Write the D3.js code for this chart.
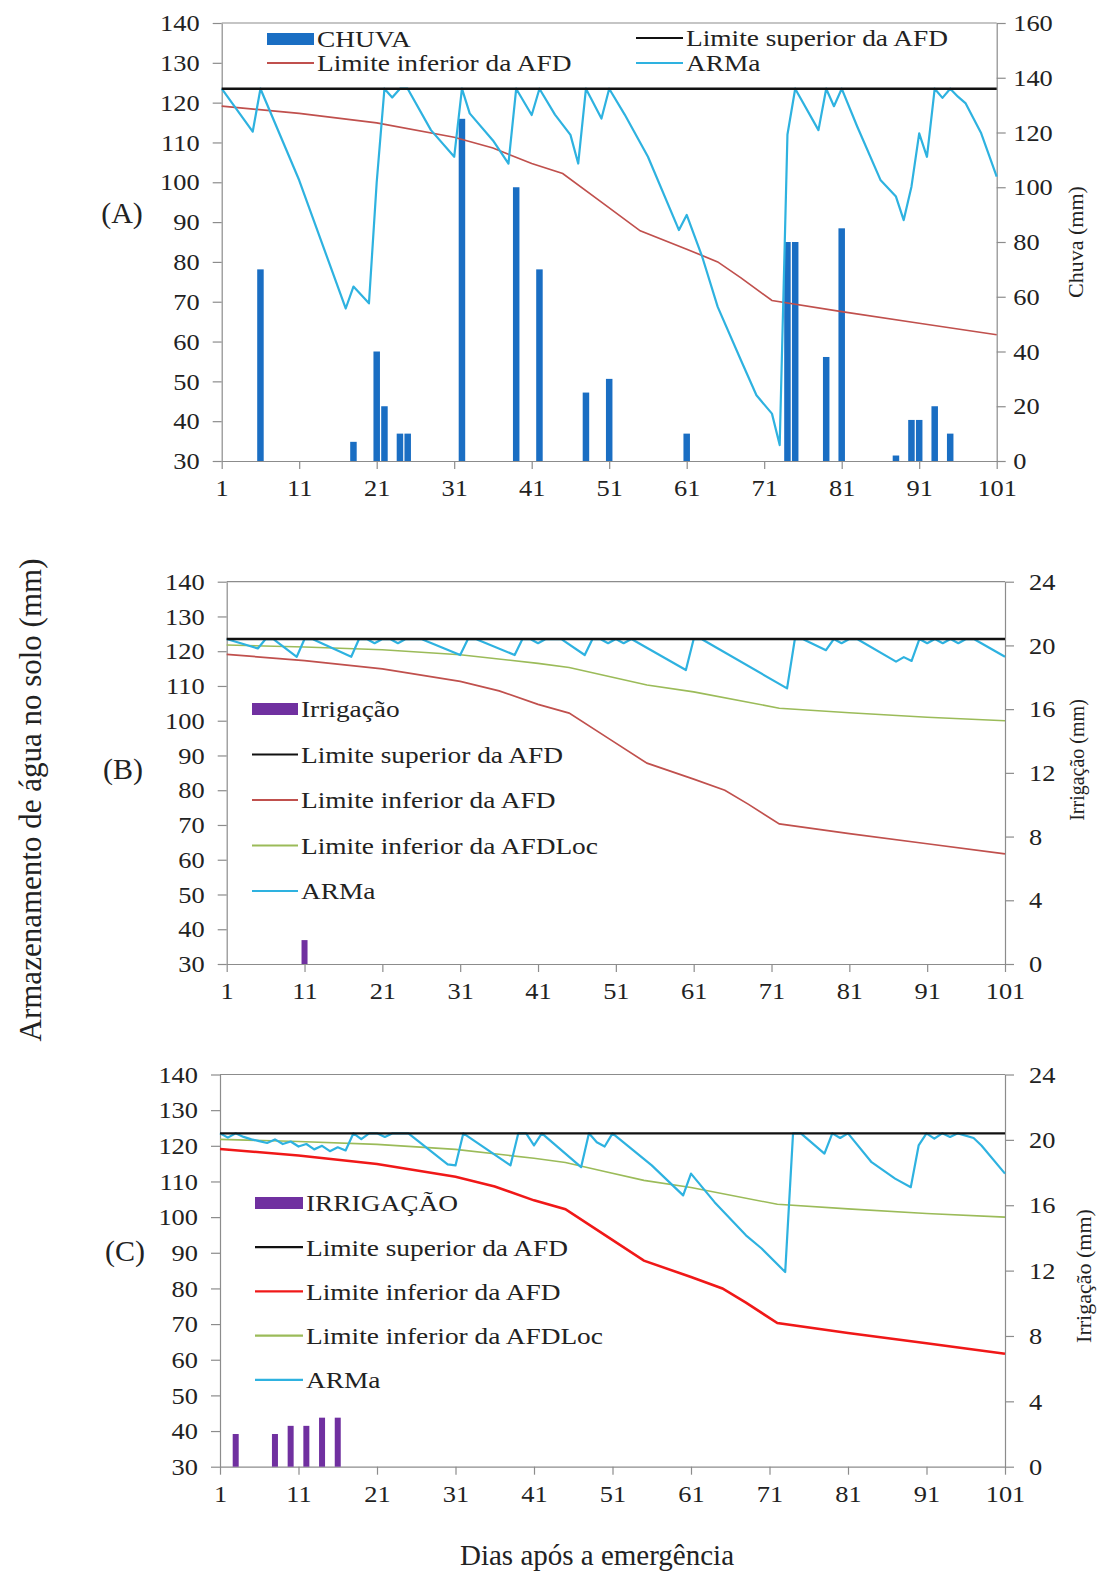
<!DOCTYPE html>
<html>
<head>
<meta charset="utf-8">
<script src="https://cdn.jsdelivr.net/npm/d3@7"></script>
<style>
  body { margin: 0; background: #fff; }
  svg text { font-family: 'Liberation Serif', 'Times New Roman', serif; fill: #222; }
</style>
</head>
<body>
<div id="chart"></div>
<script>
// ---- data ----
const xTicks = d3.range(1, 102, 10);
const armTicks = d3.range(30, 141, 10);
const chuvaTicks = d3.range(0, 161, 20);
const irrigTicks = d3.range(0, 25, 4);

const limSup = 123.5;

const afdInfDias = [1, 11, 21, 31, 36, 41, 45, 50, 55, 61, 65, 68, 72, 81, 91, 101];
const afdInfVals = [119.1, 117.3, 114.9, 111.3, 108.6, 104.7, 102.2, 95, 87.8, 83.2, 80, 76, 70.3, 67.5, 64.6, 61.7];

const afdLocDias = [1, 11, 21, 31, 41, 45, 50, 55, 61, 72, 81, 91, 101];
const afdLocVals = [121.8, 121.2, 120.4, 119, 116.5, 115.3, 112.8, 110.3, 108.3, 103.6, 102.3, 101, 100];

const chuvaDias = [6, 18, 21, 22, 24, 25, 32, 39, 42, 48, 51, 61, 74, 75, 79, 81, 88, 90, 91, 93, 95];
const chuvaMm = [70, 7, 40, 20, 10, 10, 125, 100, 70, 25, 30, 10, 80, 80, 38, 85, 2, 15, 15, 20, 10];

const irrigDiasB = [11];
const irrigMmB = [1.5];

const irrigDiasC = [3, 8, 10, 12, 14, 16];
const irrigMmC = [2, 2, 2.5, 2.5, 3, 3];

// ARMa vertices [dia, mm]
const armaA = [[1,123.5],[5,112.7],[6,123.5],[11,100.5],[17,68.3],[18,73.8],[20,69.6],[21,100],[22,123.5],
  [23,121.3],[24,123.5],[25,123.5],[28,113.1],[31,106.4],[32,123.5],[33,117.3],[36,110.5],[38,104.7],
  [39,123.5],[41,116.9],[42,123.5],[44,117],[46,111.9],[47,104.7],[48,123.5],[50,116],[51,123.5],
  [53,117],[56,106.4],[60,88],[61,91.8],[63,81.3],[65,68.7],[68,55.3],[70,46.5],[72,41.9],[73,34],
  [74,112],[75,123.5],[78,113.1],[79,123.5],[80,119.1],[81,123.5],[83,114],[86,100.6],[88,96.4],
  [89,90.5],[90,98.9],[91,112.3],[92,106.4],[93,123.5],[94,121.2],[95,123.5],[96,121.5],[97,119.8],
  [99,112.3],[101,101.4]];

const armaB = [[1,123.5],[5,120.8],[6,123.5],[7,123.5],[10,118.4],[11,123.5],[12,123.5],[17,118.4],
  [18,123.5],[19,123.5],[20,122.3],[21,123.5],[22,123.5],[23,122.3],[24,123.5],[26,123.5],[31,118.9],
  [32,123.5],[33,123.5],[38,118.9],[39,123.5],[40,123.5],[41,122.3],[42,123.5],[44,123.5],[47,118.9],
  [48,123.5],[49,123.5],[50,122.3],[51,123.5],[52,122.3],[53,123.5],[60,114.6],[61,123.5],[62,123.5],
  [73,109.3],[74,123.5],[75,123.5],[78,120.3],[79,123.5],[80,122.3],[81,123.5],[82,123.5],[87,117],
  [88,118.3],[89,117.2],[90,123.5],[91,122.3],[92,123.5],[93,122.3],[94,123.5],[95,122.3],[96,123.5],
  [97,123.5],[101,118.4]];

const armaC = [[1,123.5],[2,122.3],[3,123.5],[4,122.5],[5,121.8],[6,121.3],[7,120.8],[8,121.8],[9,120.5],
  [10,121.2],[11,119.8],[12,120.5],[13,119],[14,120],[15,118.5],[16,119.6],[17,118.7],[18,123.5],
  [19,121.9],[20,123.5],[21,123.5],[22,122.5],[23,123.5],[25,123.5],[30,114.8],[31,114.5],[32,123.5],
  [38,114.5],[39,123.5],[40,123.5],[41,120.1],[42,123.5],[47,114],[48,123.5],[49,121],[50,119.8],
  [51,123.5],[56,114.5],[60,106.1],[61,112.2],[64,104.2],[68,94.9],[70,91.2],[73,84.6],[74,123.5],
  [75,123.5],[78,117.8],[79,123.5],[80,122.2],[81,123.5],[84,115.4],[87,110.8],[89,108.4],[90,120.1],
  [91,123.5],[92,122],[93,123.5],[94,122.5],[95,123.5],[97,122.2],[98,120.1],[101,112.2]];

// ---- drawing ----
const width = 1103, height = 1573;
const SX = 1.1;            // the source charts are slightly stretched horizontally
const SXL = 1.14;          // legend text stretch
const axisColor = '#8c8c8c';
const cyan = '#2eb2e0';
const brownRed = '#c0504d';
const olive = '#9bbb59';
const purple = '#7030a0';

const svg = d3.select('#chart').append('svg')
  .attr('width', width)
  .attr('height', height);

function styleAxis(g) {
  g.select('.domain').attr('stroke', axisColor).attr('stroke-width', 1.2);
  g.selectAll('.tick line').attr('stroke', axisColor).attr('stroke-width', 1.2);
  g.selectAll('.tick text')
    .attr('font-size', 24)
    .attr('fill', '#222')
    .attr('transform', `scale(${SX},1)`);
}

function stretchedText(g, x, y, label, size) {
  return g.append('text')
    .attr('transform', `translate(${x},${y}) scale(${SXL},1)`)
    .attr('dy', '0.35em')
    .attr('font-size', size)
    .text(label);
}

function drawPanel(p) {
  const g = svg.append('g').attr('class', 'panel');
  const x = d3.scaleLinear().domain([1, 101]).range([p.left, p.right]);
  const y = d3.scaleLinear().domain([30, 140]).range([p.bottom, p.top]);
  const y2 = d3.scaleLinear().domain([0, p.rightMax]).range([p.bottom, p.top]);

  // top border
  g.append('line')
    .attr('x1', p.left).attr('x2', p.right)
    .attr('y1', p.top).attr('y2', p.top)
    .attr('stroke', axisColor).attr('stroke-width', 1.2);

  g.append('g')
    .attr('transform', `translate(0,${p.bottom})`)
    .call(d3.axisBottom(x).tickValues(xTicks).tickSize(8).tickSizeOuter(0).tickPadding(10))
    .call(styleAxis);

  g.append('g')
    .attr('transform', `translate(${p.left},0)`)
    .call(d3.axisLeft(y).tickValues(armTicks).tickSize(9).tickSizeOuter(0).tickPadding(11))
    .call(styleAxis);

  g.append('g')
    .attr('transform', `translate(${p.right},0)`)
    .call(d3.axisRight(y2).tickValues(p.rightTicks).tickSize(9).tickSizeOuter(0).tickPadding(p.rightPad))
    .call(styleAxis);

  // bars on the secondary axis
  g.append('g').selectAll('rect')
    .data(p.barDias.map((d, i) => ({ dia: d, v: p.barVals[i] })))
    .join('rect')
    .attr('x', d => x(d.dia) - p.barW / 2)
    .attr('width', p.barW)
    .attr('y', d => y2(d.v))
    .attr('height', d => y2(0) - y2(d.v))
    .attr('fill', p.barColor);

  const line = d3.line().x(d => x(d[0])).y(d => y(d[1]));

  g.append('path')
    .datum(afdInfDias.map((d, i) => [d, afdInfVals[i]]))
    .attr('d', line).attr('fill', 'none')
    .attr('stroke', p.redColor).attr('stroke-width', p.redWidth);

  if (p.loc) {
    g.append('path')
      .datum(afdLocDias.map((d, i) => [d, afdLocVals[i]]))
      .attr('d', line).attr('fill', 'none')
      .attr('stroke', olive).attr('stroke-width', 1.6);
  }

  g.append('path')
    .datum(p.arma)
    .attr('d', line).attr('fill', 'none')
    .attr('stroke', cyan).attr('stroke-width', 2.2)
    .attr('stroke-linejoin', 'round');

  g.append('path')
    .datum([[1, limSup], [101, limSup]])
    .attr('d', line).attr('fill', 'none')
    .attr('stroke', '#111').attr('stroke-width', 2.4);

  // legend
  const lg = g.append('g').attr('class', 'legend');
  p.legend.forEach(it => {
    if (it.type === 'bar') {
      lg.append('rect')
        .attr('x', it.x).attr('y', it.y - 6)
        .attr('width', p.swatchW).attr('height', 12)
        .attr('fill', it.color);
    } else {
      lg.append('line')
        .attr('x1', it.x).attr('x2', it.x + p.swatchW)
        .attr('y1', it.y).attr('y2', it.y)
        .attr('stroke', it.color).attr('stroke-width', it.w || 2.2);
    }
    stretchedText(lg, it.x + p.swatchW + 3, it.y, it.label, 24);
  });

  // right axis title
  svg.append('text')
    .attr('transform', `translate(${p.rightTitleX},${p.rightTitleY}) rotate(-90)`)
    .attr('text-anchor', 'middle')
    .attr('dy', '0.35em')
    .attr('font-size', p.rightTitleSize)
    .text(p.rightTitle);

  // panel tag
  svg.append('text')
    .attr('x', p.tagX).attr('y', p.tagY)
    .attr('text-anchor', 'middle')
    .attr('dy', '0.35em')
    .attr('font-size', 30)
    .text(p.tag);
}

// (A)
drawPanel({
  left: 221.7, right: 996.7, top: 23, bottom: 461,
  rightMax: 160, rightTicks: chuvaTicks, rightPad: 6,
  barDias: chuvaDias, barVals: chuvaMm, barColor: '#1a6ec3', barW: 6.5,
  redColor: brownRed, redWidth: 1.7, loc: false, arma: armaA,
  swatchW: 47,
  legend: [
    { type: 'bar', x: 267, y: 39, color: '#1a6ec3', label: 'CHUVA' },
    { type: 'line', x: 267, y: 63, color: brownRed, label: 'Limite inferior da AFD' },
    { type: 'line', x: 636, y: 38, color: '#111', label: 'Limite superior da AFD' },
    { type: 'line', x: 636, y: 63, color: cyan, label: 'ARMa' }
  ],
  rightTitle: 'Chuva (mm)', rightTitleX: 1075, rightTitleY: 242, rightTitleSize: 22,
  tag: '(A)', tagX: 122, tagY: 212
});

// (B)
const legB = ['Irrigação', 'Limite superior da AFD', 'Limite inferior da AFD', 'Limite inferior da AFDLoc', 'ARMa'];
const colB = [purple, '#111', brownRed, olive, cyan];
drawPanel({
  left: 226.7, right: 1005, top: 581.7, bottom: 964,
  rightMax: 24, rightTicks: irrigTicks, rightPad: 12.8,
  barDias: irrigDiasB, barVals: irrigMmB, barColor: purple, barW: 6,
  redColor: brownRed, redWidth: 1.7, loc: true, arma: armaB,
  swatchW: 46,
  legend: legB.map((l, i) => ({ type: i === 0 ? 'bar' : 'line', x: 252, y: 709 + i * 45.5, color: colB[i], label: l })),
  rightTitle: 'Irrigação (mm)', rightTitleX: 1077, rightTitleY: 760, rightTitleSize: 20,
  tag: '(B)', tagX: 123, tagY: 768
});

// (C)
const legC = ['IRRIGAÇÃO', 'Limite superior da AFD', 'Limite inferior da AFD', 'Limite inferior da AFDLoc', 'ARMa'];
const colC = [purple, '#111', '#f01818', olive, cyan];
drawPanel({
  left: 220, right: 1005, top: 1074.5, bottom: 1466.7,
  rightMax: 24, rightTicks: irrigTicks, rightPad: 12.8,
  barDias: irrigDiasC, barVals: irrigMmC, barColor: purple, barW: 6,
  redColor: '#f01818', redWidth: 2.6, loc: true, arma: armaC,
  swatchW: 48,
  legend: legC.map((l, i) => ({ type: i === 0 ? 'bar' : 'line', x: 255, y: 1203 + i * 44.2, color: colC[i], label: l })),
  rightTitle: 'Irrigação (mm)', rightTitleX: 1083, rightTitleY: 1276, rightTitleSize: 22,
  tag: '(C)', tagX: 125, tagY: 1250
});

// shared titles
svg.append('text')
  .attr('transform', 'translate(30,800) rotate(-90)')
  .attr('text-anchor', 'middle')
  .attr('dy', '0.35em')
  .attr('font-size', 31)
  .text('Armazenamento de água no solo (mm)');

svg.append('text')
  .attr('x', 597).attr('y', 1555)
  .attr('text-anchor', 'middle')
  .attr('dy', '0.35em')
  .attr('font-size', 29)
  .text('Dias após a emergência');
</script>
</body>
</html>
